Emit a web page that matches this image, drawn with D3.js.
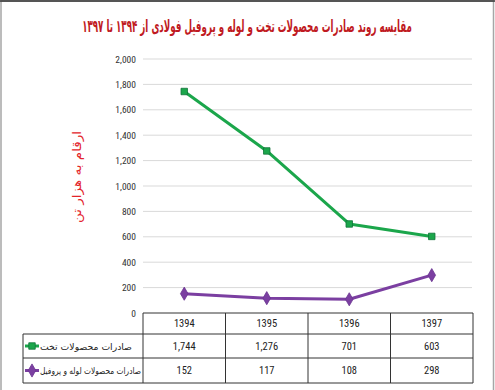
<!DOCTYPE html>
<html>
<head>
<meta charset="utf-8">
<script src="https://cdnjs.cloudflare.com/ajax/libs/d3/7.8.5/d3.min.js"></script>
<style>
  body { margin: 0; background: #fff; }
  svg { display: block; }
</style>
</head>
<body>
<div id="chart"></div>
<script>
// سال‌ها و مقادیر (هزار تن)
const years = ['1394', '1395', '1396', '1397'];
const flatExport = [1744, 1276, 701, 603];
const pipeExport = [152, 117, 108, 298];
const seriesNames = ['صادرات محصولات تخت', 'صادرات محصولات لوله و پروفیل'];
const yTicks = [0, 200, 400, 600, 800, 1000, 1200, 1400, 1600, 1800, 2000];
const title = 'مقایسه روند صادرات محصولات تخت و لوله و پروفیل فولادی از ۱۳۹۴ تا ۱۳۹۷';
const yTitle = 'ارقام به هزار تن';

const W = 495, H = 390;
const plot = {left: 143, right: 473, top: 59, bottom: 313};
const colors = ['#1ba64b', '#7b3fa1'];
const markerStroke = ['#11743a', '#6a3390'];
const numFont = '"Liberation Sans Narrow", "Roboto Condensed", "DejaVu Sans Condensed", sans-serif';
const faFont = '"DejaVu Sans", "Noto Sans", sans-serif';

const svg = d3.select('#chart').append('svg').attr('width', W).attr('height', H);

// قاب
svg.append('rect').attr('x', 1).attr('y', 1).attr('width', W - 2.5).attr('height', H + 5)
  .attr('fill', 'none').attr('stroke', '#a6a6a6').attr('stroke-width', 1.5);
svg.append('line').attr('x1', 0).attr('x2', W).attr('y1', 1).attr('y2', 1)
  .attr('stroke', '#333').attr('stroke-width', 1.5);

// عنوان (فشرده شده تا در عرض ۳۳۰ پیکسل جا شود)
const tg = svg.append('g');
const tt = tg.append('text').attr('x', 0).attr('y', 0).attr('text-anchor', 'middle')
  .style('font-family', faFont).style('font-weight', 'bold').style('font-size', '17px')
  .attr('fill', '#c01a22').text(title);
const tw = tt.node().getComputedTextLength();
tg.attr('transform', `translate(247,32) scale(${330 / tw},1)`);

const x = d3.scaleBand().domain(years).range([plot.left, plot.right]);
const y = d3.scaleLinear().domain([0, 2000]).range([plot.bottom, plot.top]);

// محور عمودی
const yAxis = d3.axisLeft(y).tickValues(yTicks).tickSize(0).tickPadding(0)
  .tickFormat(d => d === 0 ? '0' : d3.format(',')(d));
const ga = svg.append('g').attr('transform', `translate(${plot.left - 7},0)`).call(yAxis);
ga.select('.domain').remove();
ga.selectAll('text').style('font-family', numFont).style('font-size', '9.5px').attr('fill', '#333');

// خطوط شبکه
svg.append('g').selectAll('line').data(yTicks.filter(d => d > 0)).enter().append('line')
  .attr('x1', plot.left).attr('x2', plot.right - 1)
  .attr('y1', d => y(d)).attr('y2', d => y(d))
  .attr('stroke', '#d9d9d9').attr('stroke-width', 1);

// عنوان محور
svg.append('text').attr('transform', `translate(81,177) rotate(-90)`)
  .attr('text-anchor', 'middle')
  .attr('textLength', 92).attr('lengthAdjust', 'spacingAndGlyphs')
  .style('font-family', faFont).style('font-size', '12px')
  .attr('fill', '#e3242b').text(yTitle);

const cx = d => x(d) + x.bandwidth() / 2;
const line = d3.line().x((d, i) => cx(years[i])).y(d => y(d));
const series = [flatExport, pipeExport];

series.forEach((s, k) => {
  svg.append('path').datum(s).attr('d', line).attr('fill', 'none')
    .attr('stroke', colors[k]).attr('stroke-width', 3).attr('stroke-linejoin', 'round');
});

// نشانگرها
const sym = [d3.symbol().type(d3.symbolSquare).size(42), d3.symbol().type(d3.symbolDiamond).size(50)];
series.forEach((s, k) => {
  svg.append('g').selectAll('path').data(s).enter().append('path')
    .attr('d', sym[k]).attr('transform', (d, i) => `translate(${cx(years[i])},${y(d)})`)
    .attr('fill', colors[k]).attr('stroke', markerStroke[k]).attr('stroke-width', 0.8);
});

// جدول داده
const rows = [plot.bottom, 334, 358, 383];
const tbl = svg.append('g').attr('fill', 'none').attr('stroke', '#333').attr('stroke-width', 1);
const labelLeft = 23;
tbl.append('line').attr('x1', plot.left).attr('x2', plot.right).attr('y1', rows[0]).attr('y2', rows[0]);
rows.slice(1).forEach(r => {
  tbl.append('line').attr('x1', labelLeft).attr('x2', plot.right).attr('y1', r).attr('y2', r);
});
years.forEach(yr => {
  tbl.append('line').attr('x1', x(yr)).attr('x2', x(yr)).attr('y1', rows[0]).attr('y2', rows[3]);
});
tbl.append('line').attr('x1', plot.right).attr('x2', plot.right).attr('y1', rows[0]).attr('y2', rows[3]);
tbl.append('line').attr('x1', labelLeft).attr('x2', labelLeft).attr('y1', rows[1]).attr('y2', rows[3]);

const cellText = (t, xx, r) => svg.append('text').attr('x', xx)
  .attr('y', (rows[r] + rows[r + 1]) / 2 + 3.5).attr('text-anchor', 'middle')
  .style('font-family', numFont).style('font-size', '10.5px').attr('fill', '#222').text(t);

years.forEach(yr => cellText(yr, cx(yr), 0));
const labelLen = [92, 101];
series.forEach((s, k) => {
  s.forEach((v, i) => cellText(d3.format(',')(v), cx(years[i]), k + 1));
  const ry = (rows[k + 1] + rows[k + 2]) / 2;
  // کلید راهنما
  svg.append('line').attr('x1', 25).attr('x2', 39).attr('y1', ry).attr('y2', ry)
    .attr('stroke', colors[k]).attr('stroke-width', 3);
  svg.append('path').attr('d', sym[k]).attr('transform', `translate(32,${ry})`)
    .attr('fill', colors[k]).attr('stroke', markerStroke[k]).attr('stroke-width', 0.8);
  svg.append('text').attr('x', 40).attr('y', ry + 3.5).attr('text-anchor', 'start')
    .attr('textLength', labelLen[k]).attr('lengthAdjust', 'spacingAndGlyphs')
    .style('font-family', faFont).style('font-size', '9px').attr('fill', '#222')
    .text(seriesNames[k]);
});
</script>
</body>
</html>
